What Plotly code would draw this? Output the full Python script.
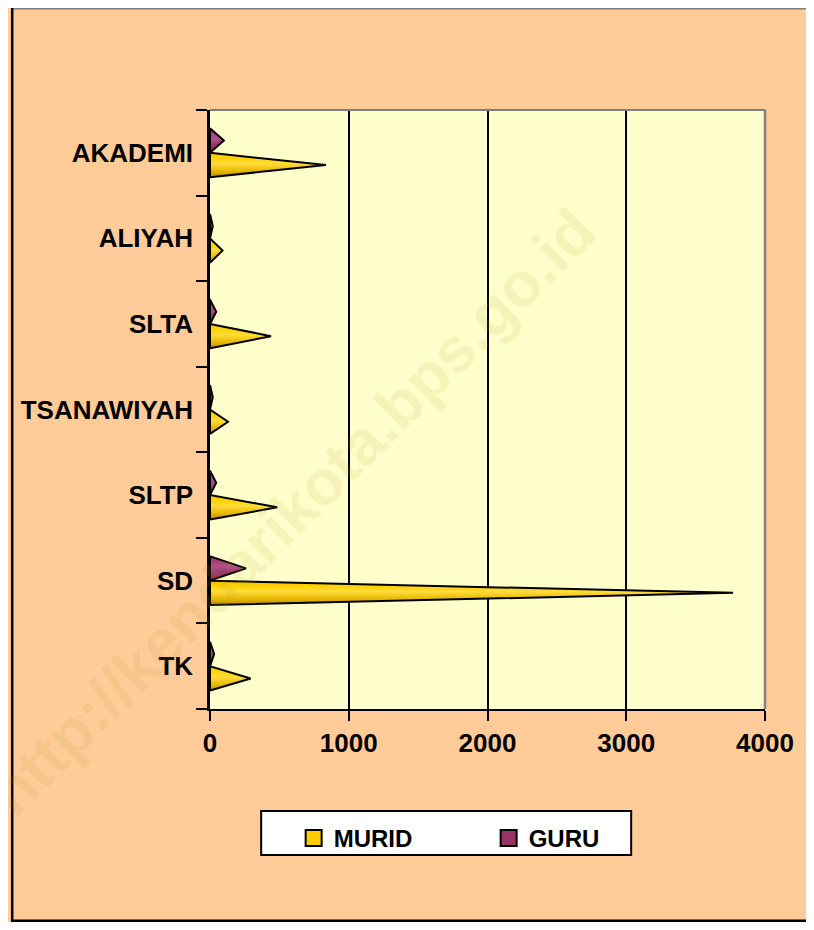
import plotly.graph_objects as go

# ---- data ----
categories = ["TK", "SD", "SLTP", "TSANAWIYAH", "SLTA", "ALIYAH", "AKADEMI"]
murid = [293, 3770, 485, 130, 440, 90, 835]
guru = [30, 260, 45, 20, 45, 20, 100]
x_ticks = [0, 1000, 2000, 3000, 4000]

# ---- layout geometry (figure sits at an 8px page offset) ----
OFF = 8
W, H = 798, 914
ML, MR, MT, MB = 202, 32, 102, 213
PW, PH = W - ML - MR, H - MT - MB


def px_x(wx):
    """window pixel x -> paper fraction"""
    return (wx - OFF - ML) / PW


def px_y(wy):
    """window pixel y -> paper fraction"""
    return (H - MB - (wy - OFF)) / PH


bar_w = 1 / 3.5  # gap width 150%

FONT = "Liberation Sans, Arial, sans-serif"

murid_scale = [[0, "#B88A00"], [0.25, "#E8B800"], [0.55, "#FFDC3A"], [0.8, "#FFD000"], [1, "#F2C400"]]
guru_scale = [[0, "#7A2450"], [0.3, "#993366"], [0.6, "#B0508A"], [1, "#943060"]]

fig = go.Figure()

for i, cat in enumerate(categories):
    # MURID triangle (lower half of category slot)
    y0, y1 = i - bar_w, i
    v = murid[i]
    fig.add_trace(go.Scatter(
        x=[0, v, 0, 0], y=[y0, (y0 + y1) / 2, y1, y0],
        mode="lines", fill="toself",
        fillgradient=dict(type="vertical", colorscale=murid_scale),
        line=dict(color="black", width=2),
        showlegend=False, hoverinfo="skip",
    ))
    # GURU triangle (upper half)
    y0, y1 = i, i + bar_w
    v = guru[i]
    fig.add_trace(go.Scatter(
        x=[0, v, 0, 0], y=[y0, (y0 + y1) / 2, y1, y0],
        mode="lines", fill="toself",
        fillgradient=dict(type="vertical", colorscale=guru_scale),
        line=dict(color="black", width=2),
        showlegend=False, hoverinfo="skip",
    ))

# legend entries
fig.add_trace(go.Scatter(x=[None], y=[None], mode="markers", name="MURID",
                         marker=dict(symbol="square", size=16, color="#FFCC00",
                                     line=dict(color="black", width=2))))
fig.add_trace(go.Scatter(x=[None], y=[None], mode="markers", name="GURU",
                         marker=dict(symbol="square", size=16, color="#993366",
                                     line=dict(color="black", width=2))))

shapes = [
    # frame lines
    dict(type="line", xref="paper", yref="paper", x0=px_x(8), x1=px_x(830), y0=px_y(8.7), y1=px_y(8.7),
         line=dict(color="#808080", width=1.5), layer="above"),
    dict(type="line", xref="paper", yref="paper", x0=px_x(9), x1=px_x(9), y0=px_y(8), y1=px_y(930),
         line=dict(color="black", width=2.5), layer="above"),
    dict(type="line", xref="paper", yref="paper", x0=px_x(8), x1=px_x(830), y0=px_y(920.8), y1=px_y(920.8),
         line=dict(color="black", width=2.5), layer="above"),
    # plot area border (top / right, grey)
    dict(type="line", xref="paper", yref="paper", x0=0, x1=1, y0=1, y1=1,
         line=dict(color="#808080", width=2), layer="above"),
    dict(type="line", xref="paper", yref="paper", x0=1, x1=1, y0=0, y1=1,
         line=dict(color="#808080", width=2.5), layer="above"),
    # legend box
    dict(type="rect", xref="paper", yref="paper", x0=px_x(262), x1=px_x(638), y0=px_y(855), y1=px_y(811),
         fillcolor="white", line=dict(color="black", width=2), layer="below"),
]

fig.update_layout(
    width=W, height=H,
    margin=dict(l=ML, r=MR, t=MT, b=MB),
    paper_bgcolor="#FFCC99",
    plot_bgcolor="#FFFFCC",
    font=dict(family=FONT, color="black"),
    showlegend=True,
    legend=dict(orientation="h", x=px_x(295), xanchor="left", y=px_y(816), yanchor="top",
                bgcolor="rgba(0,0,0,0)", borderwidth=0,
                font=dict(family=FONT, size=24, color="black", weight="bold"),
                entrywidth=150, entrywidthmode="pixels", itemsizing="trace"),
    xaxis=dict(range=[0, 4000], tickvals=x_ticks, ticktext=[str(t) for t in x_ticks],
               showgrid=True, gridcolor="black", gridwidth=2, zeroline=False,
               showline=True, linecolor="black", linewidth=2,
               ticks="outside", ticklen=10, tickwidth=2, tickcolor="black",
               tickfont=dict(family=FONT, size=26, color="black", weight="bold"),
               fixedrange=True),
    yaxis=dict(range=[-0.5, len(categories) - 0.5], tickvals=list(range(len(categories))),
               ticktext=categories, showgrid=False, zeroline=False,
               showline=True, linecolor="black", linewidth=2.5,
               ticks="outside", ticklen=9, tickcolor="rgba(0,0,0,0)",
               tickfont=dict(family=FONT, size=26, color="black", weight="bold"),
               minor=dict(tickvals=[k - 0.5 for k in range(len(categories) + 1)],
                          ticks="outside", ticklen=11, tickwidth=2, tickcolor="black", showgrid=False),
               fixedrange=True),
    shapes=shapes,
    annotations=[dict(text="http://kendarikota.bps.go.id", xref="paper", yref="paper",
                      x=px_x(293), y=px_y(512), xanchor="center", yanchor="middle",
                      showarrow=False, textangle=-45,
                      font=dict(family=FONT, size=63, color="rgba(175,165,50,0.13)", weight="bold"))],
)

fig.write_html("out.html")
